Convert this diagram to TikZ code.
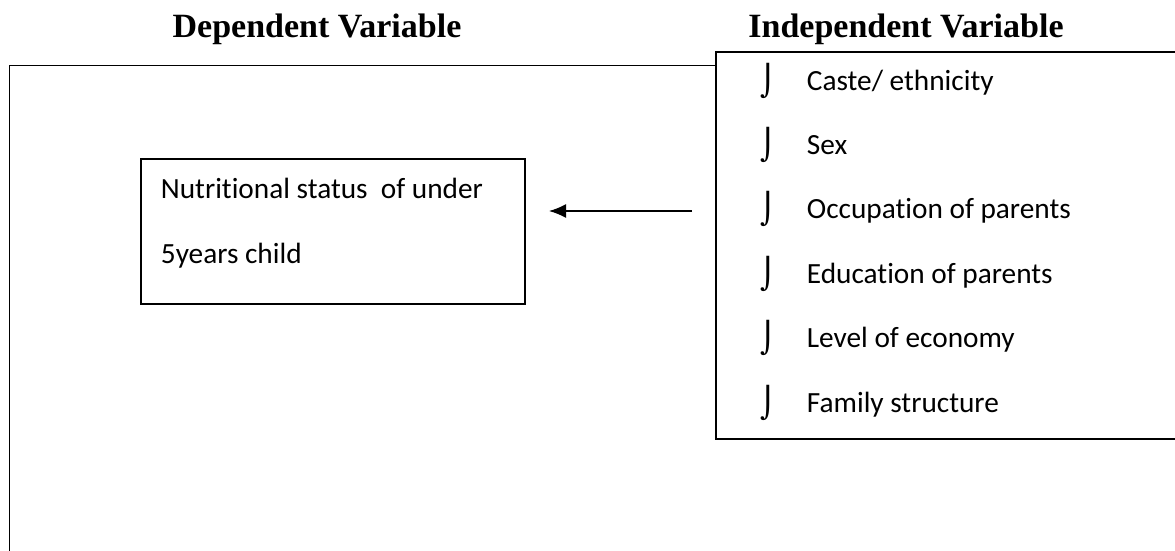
\documentclass[tikz,border=0pt]{standalone}
\usepackage{fontspec}
\setmainfont{Carlito}[Ligatures=NoCommon]
\newfontfamily\titlefont{Liberation Serif}
\newfontfamily\bulfont{DejaVu Sans}
\usetikzlibrary{arrows.meta,positioning}
\tikzstyle{block} = [draw, rectangle, line width=1.8pt, inner sep=0pt]
\tikzstyle{heading} = [font=\titlefont\bfseries\fontsize{34}{40}\selectfont, anchor=base, inner sep=0pt]
\tikzstyle{entry} = [font=\fontsize{29.3}{34}\selectfont, anchor=base west, inner sep=0pt]
\tikzstyle{bul} = [font=\bulfont\fontsize{30}{34}\selectfont, anchor=base, inner sep=0pt]
\tikzstyle{point} = [coordinate]

\begin{document}
\begin{tikzpicture}[x=1pt, y=-1pt, line width=1.8pt]
    \useasboundingbox (0,0) rectangle (1175,550);
    \node [heading] (deptitle) at (317,37) {Dependent Variable};
    \node [heading] (indeptitle) at (906,37) {Independent Variable};
    % outer frame, open to the right and below
    \node [point] (frametop) at (9.5,65.5) {};
    \node [point] (framebot) at (9.5,570) {};
    \node [block, anchor=north west, minimum width=520pt, minimum height=387pt] (factors) at (715,51) {};
    \draw (frametop -| factors.west) -- (frametop) -- (framebot);
    % dependent variable
    \node [block, anchor=north west, minimum width=384pt, minimum height=145pt] (status) at (140,158) {};
    \node [entry] (status1) at (160,198) {Nutritional status \ of under};
    \node [entry] (status2) at (160,263) {5years child};
    % independent variables
    \node [entry] (caste) at (806,90) {Caste/ ethnicity};
    \node [entry] (sex) at (806,154.4) {Sex};
    \node [entry] (occupation) at (806,218.8) {Occupation of parents};
    \node [entry] (education) at (806,283.2) {Education of parents};
    \node [entry] (economy) at (806,347.6) {Level of economy};
    \node [entry] (family) at (806,412) {Family structure};
    \node [bul] (b1) at (768,91) {⌡};
    \node [bul] (b2) at (768,155.4) {⌡};
    \node [bul] (b3) at (768,219.8) {⌡};
    \node [bul] (b4) at (768,284.2) {⌡};
    \node [bul] (b5) at (768,348.6) {⌡};
    \node [bul] (b6) at (768,413) {⌡};
    % arrow
    \node [point] (tail) at (692,211) {};
    \node [point] (head) at (549,211) {};
    \draw [line width=1.5pt, -{Latex[length=17pt,width=14pt]}] (tail) -- (head);
\end{tikzpicture}
\end{document}
